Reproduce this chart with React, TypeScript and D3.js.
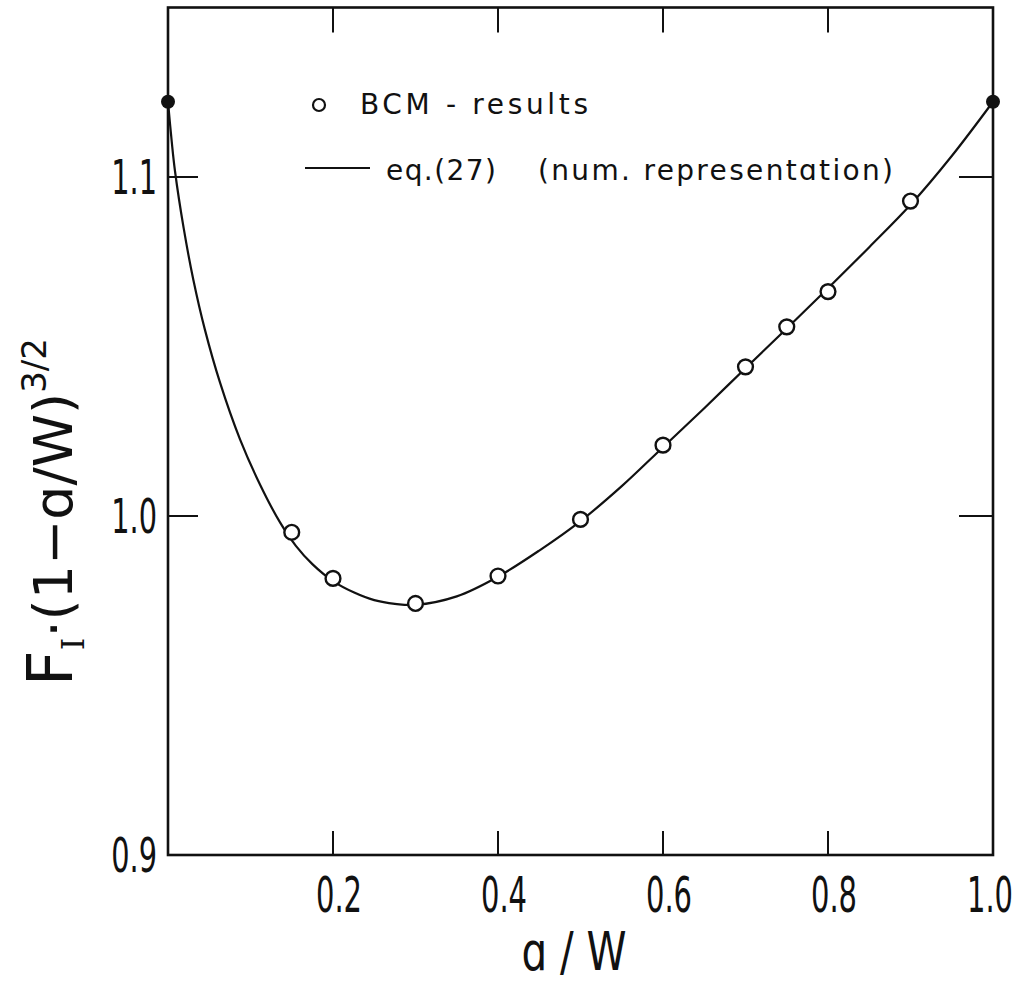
import React from "react";
import * as d3 from "d3";

// ---- data ----
const bcmX = [0.15, 0.2, 0.3, 0.4, 0.5, 0.6, 0.7, 0.75, 0.8, 0.9];
const bcmY = [0.9952, 0.9816, 0.9742, 0.9823, 0.999, 1.0209, 1.044, 1.0558, 1.0662, 1.0929];

const endX = [0, 1.0];
const endY = [1.1222, 1.1222];

const curveX = [0, 0.0045, 0.0085, 0.019, 0.0307, 0.0448, 0.063, 0.0873, 0.1115, 0.1358, 0.155, 0.175, 0.2, 0.225, 0.25, 0.275, 0.3, 0.35, 0.4, 0.45, 0.5, 0.55, 0.6, 0.65, 0.7, 0.75, 0.8, 0.85, 0.9, 0.95, 1.0];
const curveY = [1.1222, 1.1105, 1.1017, 1.0849, 1.0697, 1.0549, 1.0394, 1.0226, 1.0093, 0.9981, 0.9912, 0.9858, 0.9808, 0.9775, 0.9752, 0.9741, 0.9738, 0.9763, 0.9821, 0.9898, 0.9985, 1.0088, 1.0203, 1.0318, 1.0436, 1.0553, 1.0672, 1.0793, 1.0918, 1.1062, 1.1222];

const xTicks = [0.2, 0.4, 0.6, 0.8];
const xTickLabels = ["0.2", "0.4", "0.6", "0.8", "1.0"];
const xTickLabelVals = [0.2, 0.4, 0.6, 0.8, 1.0];
const yTicks = [1.0, 1.1];
const yTickLabels = ["0.9", "1.0", "1.1"];
const yTickLabelVals = [0.9, 1.0, 1.1];

const legendCircleText = "BCM - results";
const legendLineText1 = "eq.(27)";
const legendLineText2 = "(num. representɑtion)";

const FONT = "'DejaVu Sans', 'Liberation Sans', sans-serif";

export default function App() {
  const W = 1026;
  const H = 984;
  const left = 168, right = 993, top = 7.5, bottom = 855;
  const x = d3.scaleLinear().domain([0, 1]).range([left, right]);
  const y = d3.scaleLinear().domain([0.9, 1.15]).range([bottom, top]);

  const pts = curveX.map((v, i) => [v, curveY[i]] as [number, number]);
  const line = d3
    .line<[number, number]>()
    .x((d) => x(d[0]))
    .y((d) => y(d[1]))
    .curve(d3.curveCatmullRom.alpha(0.5));

  const stroke = "#111";
  const lastIdx = xTickLabels.length - 1;

  return (
    <div style={{ position: "absolute", left: 0, top: 0 }}>
      <svg width={W} height={H} style={{ display: "block", background: "#fff" }}>
        {/* frame */}
        <rect x={left} y={top} width={right - left} height={bottom - top} fill="none" stroke={stroke} strokeWidth={2.6} />
        {/* x ticks bottom and top */}
        {xTicks.map((t) => (
          <g key={"xt" + t}>
            <line x1={x(t)} x2={x(t)} y1={bottom} y2={bottom - 24} stroke={stroke} strokeWidth={2} />
            <line x1={x(t)} x2={x(t)} y1={top} y2={top + 25} stroke={stroke} strokeWidth={2} />
          </g>
        ))}
        {/* y ticks left and right */}
        {yTicks.map((t) => (
          <g key={"yt" + t}>
            <line x1={left} x2={left + 30} y1={y(t)} y2={y(t)} stroke={stroke} strokeWidth={2} />
            <line x1={right} x2={right - 34} y1={y(t)} y2={y(t)} stroke={stroke} strokeWidth={2} />
          </g>
        ))}
        {/* x tick labels (condensed via horizontal scale) */}
        {xTickLabels.map((s, i) => (
          <g
            key={"xl" + s}
            transform={`translate(${x(xTickLabelVals[i]) + (i === lastIdx ? -3 : 6)},912) scale(0.58,1)`}
          >
            <text textAnchor="middle" fontFamily={FONT} fontSize={50} fill={stroke}>
              {s}
            </text>
          </g>
        ))}
        {/* y tick labels */}
        {yTickLabels.map((s, i) => (
          <g key={"yl" + s} transform={`translate(157,${y(yTickLabelVals[i]) + 17}) scale(0.6,1)`}>
            <text textAnchor="end" fontFamily={FONT} fontSize={48} fill={stroke}>
              {s}
            </text>
          </g>
        ))}
        {/* axis titles */}
        <g transform="translate(574,970) scale(0.75,1)">
          <text textAnchor="middle" fontFamily={FONT} fontSize={54} fill={stroke}>
            ɑ / W
          </text>
        </g>
        <g transform="translate(72,512) rotate(-90)">
          <text textAnchor="middle" fontFamily={FONT} fill={stroke}>
            <tspan fontSize={62}>F</tspan>
            <tspan fontSize={32} fontFamily="'DejaVu Serif', serif" dy={12}>I</tspan>
            <tspan fontSize={54} dy={-12}>·(1−ɑ/W)</tspan>
            <tspan fontSize={34} dy={-26}>3/2</tspan>
          </text>
        </g>
        {/* curve */}
        <path d={line(pts) || ""} fill="none" stroke={stroke} strokeWidth={2.2} />
        {/* BCM points */}
        {bcmX.map((v, i) => (
          <circle key={"c" + v} cx={x(v)} cy={y(bcmY[i])} r={7.4} fill="#fff" stroke={stroke} strokeWidth={2.4} />
        ))}
        {/* end points */}
        {endX.map((v, i) => (
          <circle key={"e" + v} cx={x(v)} cy={y(endY[i])} r={7} fill={stroke} />
        ))}
        {/* legend */}
        <circle cx={319} cy={105} r={6} fill="#fff" stroke={stroke} strokeWidth={2.2} />
        <text x={360} y={114} fontFamily={FONT} fontSize={28} textLength={228} lengthAdjust="spacing" fill={stroke}>
          {legendCircleText}
        </text>
        <line x1={305} x2={370} y1={168} y2={168} stroke={stroke} strokeWidth={2.2} />
        <text x={386} y={180} fontFamily={FONT} fontSize={28} textLength={110} lengthAdjust="spacing" fill={stroke}>
          {legendLineText1}
        </text>
        <text x={538} y={180} fontFamily={FONT} fontSize={28} textLength={355} lengthAdjust="spacing" fill={stroke}>
          {legendLineText2}
        </text>
      </svg>
    </div>
  );
}
